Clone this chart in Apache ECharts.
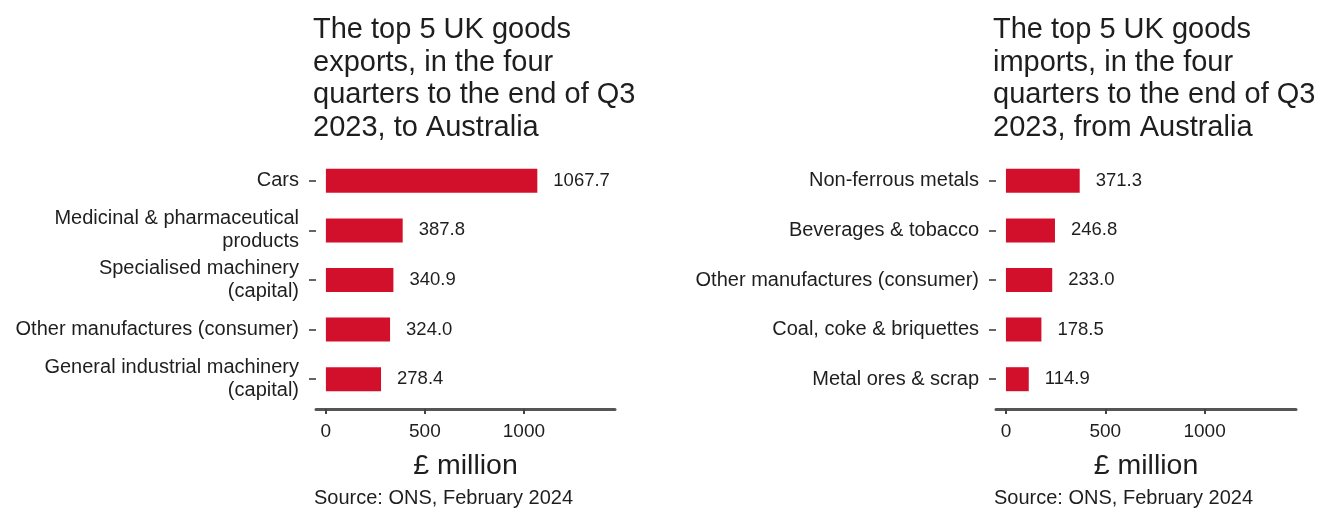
<!DOCTYPE html>
<html>
<head>
<meta charset="utf-8">
<script src="https://cdn.jsdelivr.net/npm/echarts@6/dist/echarts.min.js"></script>
<style>
  html, body { margin: 0; padding: 0; background: #fff; }
  #chart { width: 1322px; height: 509px; }
</style>
</head>
<body>
<div id="chart"></div>
<script>
// exports to Australia, £ million
const exportCategories = [
  'Cars',
  'Medicinal & pharmaceutical\nproducts',
  'Specialised machinery\n(capital)',
  'Other manufactures (consumer)',
  'General industrial machinery\n(capital)',
];
const exportValues = [1067.7, 387.8, 340.9, 324.0, 278.4];

// imports from Australia, £ million
const importCategories = [
  'Non-ferrous metals',
  'Beverages & tobacco',
  'Other manufactures (consumer)',
  'Coal, coke & briquettes',
  'Metal ores & scrap',
];
const importValues = [371.3, 246.8, 233.0, 178.5, 114.9];

const xTicks = [0, 500, 1000];

const barColor = '#d2102c';
const textColor = '#1e1e1e';
const font = 'Liberation Sans, Arial, sans-serif';

const chart = echarts.init(document.getElementById('chart'));

function xAxisFor(gridIndex) {
  return {
    type: 'value',
    gridIndex,
    min: -50,
    max: 1460,
    offset: 5,
    splitLine: { show: false },
    axisLine: { show: true, lineStyle: { color: '#555', width: 3 } },
    axisTick: { show: true, customValues: xTicks, length: 5, lineStyle: { color: '#444', width: 2 } },
    axisLabel: {
      customValues: xTicks,
      formatter: (v) => String(v),
      color: textColor,
      fontSize: 19,
      fontFamily: font,
      margin: 13,
    },
    name: '£ million',
    nameLocation: 'middle',
    nameGap: 43,
    nameTextStyle: { color: textColor, fontSize: 28.5, fontFamily: font },
  };
}

function yAxisFor(gridIndex, data) {
  return {
    type: 'category',
    gridIndex,
    data,
    inverse: true,
    axisLine: { show: false, onZero: false },
    axisTick: { show: true, alignWithLabel: true, length: 7, lineStyle: { color: '#333', width: 1.5 } },
    axisLabel: {
      color: textColor,
      fontSize: 20,
      fontFamily: font,
      lineHeight: 23,
      margin: 17,
      align: 'right',
    },
  };
}

function seriesFor(index, data) {
  return {
    type: 'bar',
    xAxisIndex: index,
    yAxisIndex: index,
    data,
    barWidth: 24,
    itemStyle: { color: barColor },
    label: {
      show: true,
      position: 'right',
      distance: 16,
      color: textColor,
      fontSize: 18.5,
      fontFamily: font,
      formatter: (p) => p.value.toFixed(1),
    },
    silent: true,
  };
}

const titleStyle = { color: textColor, fontSize: 29, fontWeight: 'normal', fontFamily: font, lineHeight: 32.5 };
const sourceStyle = { color: textColor, fontSize: 20, fontWeight: 'normal', fontFamily: font };

chart.setOption({
  animation: false,
  title: [
    {
      text: 'The top 5 UK goods\nexports, in the four\nquarters to the end of Q3\n2023, to Australia',
      left: 313, top: 14, padding: 0,
      textStyle: titleStyle,
    },
    {
      text: 'The top 5 UK goods\nimports, in the four\nquarters to the end of Q3\n2023, from Australia',
      left: 993, top: 14, padding: 0,
      textStyle: titleStyle,
    },
    { text: 'Source: ONS, February 2024', left: 314, top: 488, padding: 0, textStyle: sourceStyle },
    { text: 'Source: ONS, February 2024', left: 994, top: 488, padding: 0, textStyle: sourceStyle },
  ],
  grid: [
    { left: 316, right: 707, top: 156, bottom: 105 },
    { left: 996, right: 26, top: 156, bottom: 105 },
  ],
  xAxis: [xAxisFor(0), xAxisFor(1)],
  yAxis: [yAxisFor(0, exportCategories), yAxisFor(1, importCategories)],
  series: [seriesFor(0, exportValues), seriesFor(1, importValues)],
});
</script>
</body>
</html>
